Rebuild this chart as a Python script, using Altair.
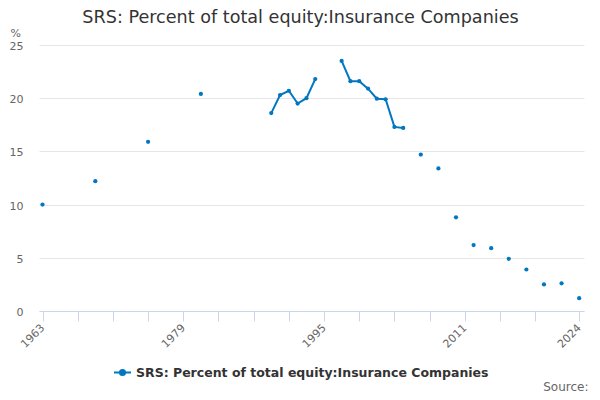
import altair as alt
import pandas as pd

series_name = "SRS: Percent of total equity:Insurance Companies"
years = [1963, 1969, 1975, 1981, 1989, 1990, 1991, 1992, 1993, 1994,
         1997, 1998, 1999, 2000, 2001, 2002, 2003, 2004,
         2006, 2008, 2010, 2012, 2014, 2016, 2018, 2020, 2022, 2024]
values = [10.0, 12.2, 15.9, 20.4, 18.6, 20.3, 20.7, 19.5, 20.0, 21.8,
          23.5, 21.6, 21.6, 20.9, 19.95, 19.9, 17.3, 17.2,
          14.7, 13.4, 8.8, 6.2, 5.9, 4.9, 3.9, 2.5, 2.6, 1.2]
tick_years = [1963, 1967, 1971, 1975, 1979, 1983, 1987, 1991, 1995, 1999,
              2003, 2007, 2011, 2015, 2019, 2024]
label_years = [1963, 1979, 1995, 2011, 2024]
y_ticks = [0, 5, 10, 15, 20, 25]

# segment id: consecutive years are joined, gaps break the line
segs = []
s = 0
for i, yr in enumerate(years):
    if i > 0 and yr - years[i - 1] > 1:
        s += 1
    segs.append(s)

df = pd.DataFrame({"year": years, "value": values, "seg": segs,
                   "series": [series_name] * len(years)})

BLUE = "#0077c0"

x_enc = alt.X("year:Q",
              scale=alt.Scale(domain=[1962.6, 2024.55], nice=False, zero=False),
              axis=alt.Axis(values=tick_years,
                            labelExpr="indexof(" + str(label_years) + ", datum.value) >= 0 ? datum.value + '' : ''",
                            labelAngle=-45, labelAlign="right", labelBaseline="middle",
                            labelOffset=0, labelPadding=5,
                            labelColor="#666666", labelFontSize=11, labelFont="DejaVu Sans",
                            domainColor="#ccd6eb", tickColor="#ccd6eb", tickSize=10,
                            grid=False, labelOverlap=False,
                            title="Source:", titleX=549, titleY=79, titleAlign="right",
                            titleBaseline="alphabetic", titleFontWeight="normal",
                            titleColor="#666666", titleFontSize=12, titleFont="DejaVu Sans"))
y_enc = alt.Y("value:Q",
              scale=alt.Scale(domain=[0, 25], nice=False),
              axis=alt.Axis(values=y_ticks, grid=True, gridColor="#e6e6e6",
                            domain=False, ticks=False, tickSize=0, labelPadding=16,
                            labelOffset=1.5,
                            labelColor="#666666", labelFontSize=11, labelFont="DejaVu Sans",
                            title="%", titleAngle=0, titleX=-29, titleY=-9,
                            titleAlign="left", titleBaseline="alphabetic",
                            titleFontWeight="normal", titleColor="#666666",
                            titleFontSize=11, titleFont="DejaVu Sans"))

legend_symbol = "M-1,0L1,0M-0.3,0a0.3,0.3 0 1,0 0.6,0a0.3,0.3 0 1,0 -0.6,0"

line = alt.Chart(df).mark_line(strokeWidth=2).encode(
    x=x_enc, y=y_enc, detail="seg:N",
    color=alt.Color("series:N", scale=alt.Scale(range=[BLUE]),
                    legend=alt.Legend(title=None, orient="none", legendX=74, legendY=318,
                                      symbolType=legend_symbol, symbolSize=289,
                                      symbolStrokeWidth=2, symbolFillColor=BLUE,
                                      labelOffset=4,
                                      labelFont="DejaVu Sans", labelFontSize=12.5,
                                      labelFontWeight="bold", labelColor="#333333",
                                      labelLimit=500)))
points = alt.Chart(df).mark_circle(size=18, opacity=1, color=BLUE).encode(x=x_enc, y=y_enc)

chart = alt.layer(line, points).properties(
    width=545, height=266,
    autosize=alt.AutoSizeParams(type="none"),
    padding={"left": 31, "top": 37, "right": 8, "bottom": 81},
    title=alt.TitleParams(series_name, anchor="middle", frame="group", dx=-11,
                          offset=-14, baseline="alphabetic",
                          font="DejaVu Sans", fontSize=17.6, fontWeight="normal",
                          color="#333333"),
).configure_view(stroke=None)

chart.save("out.html", embed_options={"renderer": "svg", "actions": False})
